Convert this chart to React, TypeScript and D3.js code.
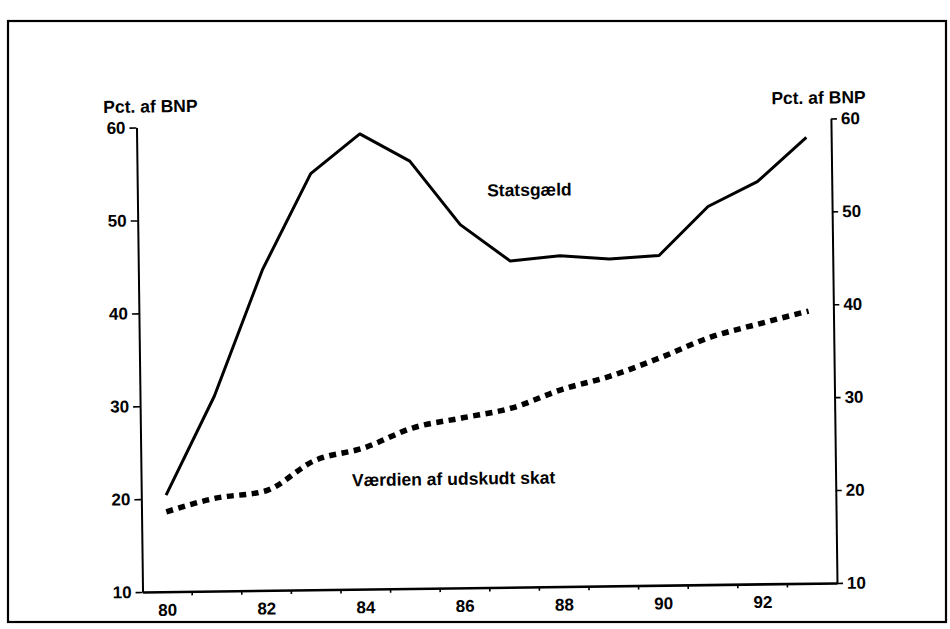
import React, { useEffect, useRef } from 'react';
import * as d3 from 'd3';

// years on the x axis (19xx)
const years = [80, 81, 82, 83, 84, 85, 86, 87, 88, 89, 90, 91, 92, 93];
const yearLabels = [80, 82, 84, 86, 88, 90, 92];
// Statsgæld, pct. af BNP
const statsgaeld = [20.4, 31.0, 44.5, 54.8, 59.0, 56.0, 49.1, 45.1, 45.6, 45.2, 45.5, 50.7, 53.3, 58.0];
// Værdien af udskudt skat, pct. af BNP
const udskudtSkat = [18.6, 20.0, 20.7, 23.9, 25.2, 27.3, 28.3, 29.3, 31.2, 32.6, 34.5, 36.6, 38.0, 39.3];
const yTicks = [10, 20, 30, 40, 50, 60];

const W = 950;
const H = 629;
const FONT = '"Liberation Sans", Arial, sans-serif';

const App = () => {
  const svgRef = useRef(null);

  useEffect(() => {
    const svg = d3.select(svgRef.current);
    svg.selectAll('*').remove();

    const left = 139.5, right = 834, top = 123, bottom = 587.5;

    // frame round the figure
    svg.append('rect')
      .attr('x', 8).attr('y', 21)
      .attr('width', 938).attr('height', 601)
      .attr('fill', 'none').attr('stroke', '#000').attr('stroke-width', 2.2);

    // the scan is slightly tilted
    const g = svg.append('g').attr('transform', 'rotate(-0.75, 487, 357)');

    const x = d3.scaleBand().domain(years.map(String)).range([left, right]).padding(0);
    const xc = (yr) => x(String(yr)) + x.bandwidth() / 2;
    const y = d3.scaleLinear().domain([10, 60]).range([bottom, top]);

    // left axis
    const yl = g.append('g')
      .attr('transform', `translate(${left},0)`)
      .call(d3.axisLeft(y).tickValues(yTicks).tickSize(7).tickPadding(4).tickSizeOuter(0));
    // right axis
    const yr = g.append('g')
      .attr('transform', `translate(${right},0)`)
      .call(d3.axisRight(y).tickValues(yTicks).tickSize(6).tickPadding(4).tickSizeOuter(0));
    [yl, yr].forEach(ax => {
      ax.select('.domain').attr('stroke-width', 2);
      ax.selectAll('.tick line').attr('stroke-width', 1.6);
      ax.selectAll('text')
        .attr('font-family', FONT).attr('font-size', 17).attr('font-weight', 'bold').attr('fill', '#000');
    });

    // x axis: labels at band centres, ticks at band edges
    const xa = g.append('g')
      .attr('transform', `translate(0,${bottom})`)
      .call(d3.axisBottom(x).tickValues(yearLabels.map(String)).tickSize(0).tickPadding(12).tickSizeOuter(0));
    xa.select('.domain').attr('stroke-width', 2.6);
    xa.selectAll('text')
      .attr('font-family', FONT).attr('font-size', 17).attr('font-weight', 'bold').attr('fill', '#000');
    g.append('g').selectAll('line')
      .data(years.slice(1))
      .enter().append('line')
        .attr('x1', d => x(String(d))).attr('x2', d => x(String(d)))
        .attr('y1', bottom).attr('y2', bottom + 4)
        .attr('stroke', '#000').attr('stroke-width', 1.6);

    // axis titles
    g.append('text')
      .attr('x', left - 33).attr('y', y(60) - 15)
      .attr('font-family', FONT).attr('font-size', 17.5).attr('font-weight', 'bold')
      .text('Pct. af BNP');
    g.append('text')
      .attr('x', right + 35).attr('y', y(60) - 15)
      .attr('text-anchor', 'end')
      .attr('font-family', FONT).attr('font-size', 17.5).attr('font-weight', 'bold')
      .text('Pct. af BNP');

    // series
    const solid = d3.line().x((d, i) => xc(years[i])).y(d => y(d));
    g.append('path')
      .datum(statsgaeld)
      .attr('d', solid)
      .attr('fill', 'none').attr('stroke', '#000').attr('stroke-width', 3)
      .attr('stroke-linejoin', 'round');

    const dotted = d3.line().x((d, i) => xc(years[i])).y(d => y(d)).curve(d3.curveMonotoneX);
    g.append('path')
      .datum(udskudtSkat)
      .attr('d', dotted)
      .attr('fill', 'none').attr('stroke', '#000').attr('stroke-width', 5.5)
      .attr('stroke-dasharray', '7,5.5');

    // series labels
    g.append('text')
      .attr('x', xc(87) + 20).attr('y', y(52.1))
      .attr('text-anchor', 'middle')
      .attr('font-family', FONT).attr('font-size', 17.5).attr('font-weight', 'bold')
      .text('Statsgæld');
    g.append('text')
      .attr('x', xc(86) - 10).attr('y', y(21.1))
      .attr('text-anchor', 'middle')
      .attr('font-family', FONT).attr('font-size', 17.5).attr('font-weight', 'bold')
      .text('Værdien af udskudt skat');
  }, []);

  return (
    <svg ref={svgRef} width={W} height={H}
      style={{ position: 'absolute', left: 0, top: 0, display: 'block', background: '#fff' }}>
    </svg>
  );
};

export default App;
